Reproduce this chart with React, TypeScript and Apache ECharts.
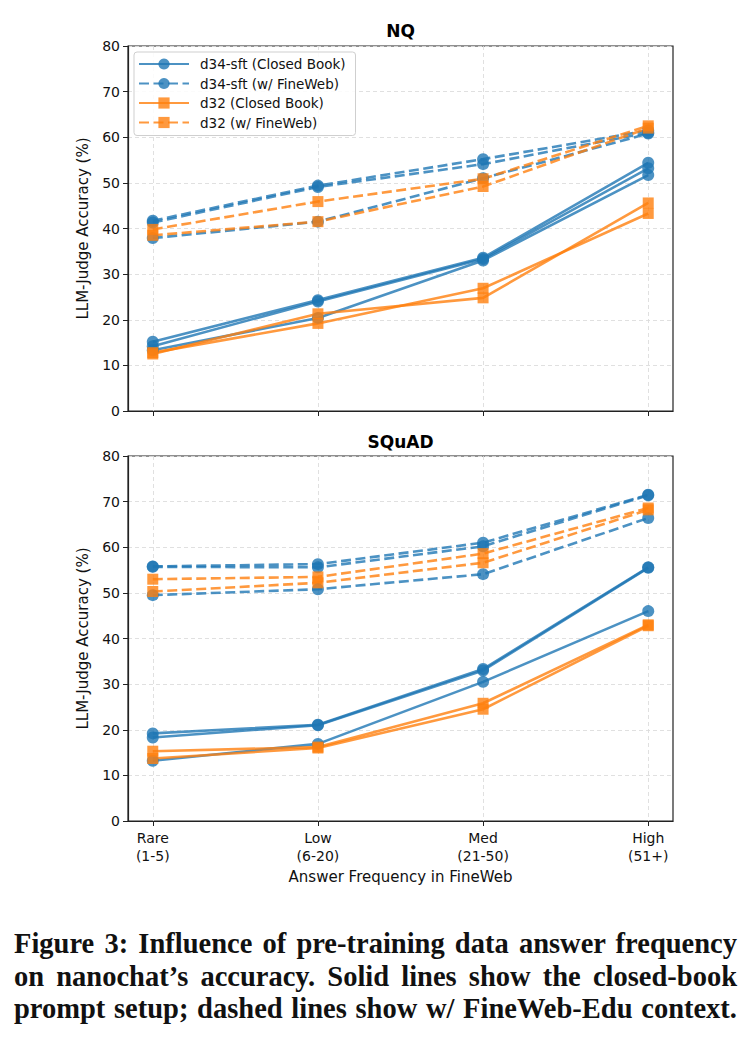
import React, { useEffect, useRef } from "react";
import * as echarts from "echarts";

// ---------- data ----------
const categories = ["Rare\n(1-5)", "Low\n(6-20)", "Med\n(21-50)", "High\n(51+)"];
const yTicks = [0, 10, 20, 30, 40, 50, 60, 70, 80];

// NQ
const nqD34Closed = [
  [15.2, 24.3, 33.6, 54.4],
  [14.2, 24.0, 33.3, 53.2],
  [13.3, 20.4, 33.0, 51.7],
];
const nqD34Web = [
  [41.7, 49.4, 55.2, 61.5],
  [41.3, 49.1, 54.1, 61.0],
  [37.9, 41.5, 51.0, 60.8],
];
const nqD32Closed = [
  [12.5, 21.3, 24.8, 45.6],
  [12.8, 19.2, 26.9, 43.3],
];
const nqD32Web = [
  [39.8, 45.9, 50.9, 62.5],
  [38.5, 41.5, 49.2, 62.0],
];

// SQuAD
const sqD34Closed = [
  [19.2, 21.1, 33.3, 55.6],
  [18.3, 21.0, 33.0, 55.5],
  [13.2, 16.9, 30.5, 46.0],
];
const sqD34Web = [
  [55.8, 56.3, 61.0, 71.5],
  [55.7, 55.6, 60.2, 71.4],
  [49.5, 50.8, 54.1, 66.4],
];
const sqD32Closed = [
  [15.3, 16.2, 25.8, 43.0],
  [13.7, 16.0, 24.5, 42.8],
];
const sqD32Web = [
  [53.0, 53.5, 58.6, 68.6],
  [50.3, 52.2, 56.6, 68.2],
];

const seriesNames = [
  "d34-sft (Closed Book)",
  "d34-sft (w/ FineWeb)",
  "d32 (Closed Book)",
  "d32 (w/ FineWeb)",
];

const captionLines = [
  "Figure 3: Influence of pre-training data answer frequency",
  "on nanochat\u2019s accuracy. Solid lines show the closed-book",
  "prompt setup; dashed lines show w/ FineWeb-Edu context.",
];

// ---------- styling ----------
const BLUE = "#1f77b4";
const ORANGE = "#ff7f0e";
const FONT = "DejaVu Sans";
const GRID_LEFT = 128;
const GRID_W = 545;
const GRID_H = 365;
const TOPS = [46, 456];

function makeSeries(
  groups: number[][],
  name: string,
  color: string,
  dashed: boolean,
  symbol: string,
  gi: number
) {
  return groups.map((vals) => ({
    type: "line",
    name,
    xAxisIndex: gi,
    yAxisIndex: gi,
    data: vals.map((v, i) => [i, v]),
    symbol,
    symbolSize: symbol === "circle" ? 12 : 11,
    lineStyle: {
      color,
      width: 2.6,
      opacity: 0.8,
      type: dashed ? [10, 4.5] : "solid",
    },
    itemStyle: { color, opacity: 0.8 },
    emphasis: { disabled: true },
  }));
}

export default function App() {
  const ref = useRef<HTMLDivElement>(null);

  useEffect(() => {
    if (!ref.current) return;
    const chart = echarts.init(ref.current, undefined, { renderer: "svg" });

    const xAxes = TOPS.map((_, gi) => ({
      type: "value",
      gridIndex: gi,
      min: -0.15,
      max: 3.15,
      name: gi === 1 ? "Answer Frequency in FineWeb" : "",
      nameLocation: "middle",
      nameGap: 48,
      nameTextStyle: { fontFamily: FONT, fontSize: 15, color: "#111" },
      axisLine: { show: true, onZero: false, lineStyle: { color: "#222", width: 1.2 } },
      axisTick: {
        show: true,
        inside: false,
        length: 5,
        customValues: [0, 1, 2, 3],
        lineStyle: { color: "#222", width: 1 },
      },
      axisLabel: {
        show: gi === 1,
        customValues: [0, 1, 2, 3],
        formatter: (v: number) => categories[Math.round(v)] ?? "",
        fontFamily: FONT,
        fontSize: 14,
        color: "#111",
        lineHeight: 18,
        margin: 8,
      },
      splitLine: {
        show: true,
        lineStyle: { color: "#dcdcdc", type: [4, 3], width: 0.9 },
      },
    }));

    const yAxes = TOPS.map((_, gi) => ({
      type: "value",
      gridIndex: gi,
      min: 0,
      max: 80,
      interval: 10,
      name: "LLM-Judge Accuracy (%)",
      nameLocation: "middle",
      nameGap: 38,
      nameRotate: 90,
      nameTextStyle: { fontFamily: FONT, fontSize: 15, color: "#111" },
      axisLine: { show: true, onZero: false, lineStyle: { color: "#222", width: 1.2 } },
      axisTick: {
        show: true,
        inside: false,
        length: 5,
        lineStyle: { color: "#222", width: 1 },
      },
      axisLabel: {
        fontFamily: FONT,
        fontSize: 14,
        color: "#111",
        margin: 8,
        formatter: (v: number) => (yTicks.includes(v) ? String(v) : ""),
      },
      splitLine: {
        show: true,
        lineStyle: { color: "#dcdcdc", type: [4, 3], width: 0.9 },
      },
    }));

    const series: any[] = [];
    const panels = [
      [nqD34Closed, nqD34Web, nqD32Closed, nqD32Web],
      [sqD34Closed, sqD34Web, sqD32Closed, sqD32Web],
    ];
    panels.forEach((p, gi) => {
      series.push(...makeSeries(p[0], seriesNames[0], BLUE, false, "circle", gi));
      series.push(...makeSeries(p[1], seriesNames[1], BLUE, true, "circle", gi));
      series.push(...makeSeries(p[2], seriesNames[2], ORANGE, false, "rect", gi));
      series.push(...makeSeries(p[3], seriesNames[3], ORANGE, true, "rect", gi));
    });

    chart.setOption({
      animation: false,
      backgroundColor: "#fff",
      grid: TOPS.map((t) => ({
        left: GRID_LEFT,
        top: t,
        width: GRID_W,
        height: GRID_H,
        show: true,
        borderColor: "#222",
        borderWidth: 1.2,
        backgroundColor: "transparent",
      })),
      xAxis: xAxes,
      yAxis: yAxes,
      legend: {
        data: seriesNames,
        orient: "vertical",
        left: 134,
        top: 52,
        padding: [5, 10, 6, 4],
        itemGap: 5.5,
        itemWidth: 50,
        itemHeight: 14,
        backgroundColor: "rgba(255,255,255,0.85)",
        borderColor: "#cfcfcf",
        borderWidth: 1,
        borderRadius: 3,
        textStyle: {
          fontFamily: FONT,
          fontSize: 13.5,
          color: "#111",
          padding: [0, 0, 0, 6],
        },
        selectedMode: false,
      },
      graphic: [
        {
          type: "text",
          x: GRID_LEFT + GRID_W / 2,
          y: 31,
          style: {
            text: "NQ",
            font: `bold 17px "${FONT}"`,
            fill: "#000",
            textAlign: "center",
            textVerticalAlign: "middle",
          },
        },
        {
          type: "text",
          x: GRID_LEFT + GRID_W / 2,
          y: 442,
          style: {
            text: "SQuAD",
            font: `bold 17px "${FONT}"`,
            fill: "#000",
            textAlign: "center",
            textVerticalAlign: "middle",
          },
        },
      ],
      series,
    });

    return () => chart.dispose();
  }, []);

  return (
    <div
      style={{
        position: "absolute",
        left: 0,
        top: 0,
        width: 753,
        height: 1042,
        background: "#fff",
        overflow: "hidden",
      }}
    >
      <div ref={ref} style={{ position: "absolute", left: 0, top: 0, width: 753, height: 905 }} />
      {captionLines.map((line, i) => (
        <div
          key={i}
          style={{
            position: "absolute",
            left: 14,
            top: 928 + i * 32.5,
            width: 723,
            height: 32,
            lineHeight: "32px",
            fontFamily: '"Liberation Serif", "DejaVu Serif", serif',
            fontWeight: "bold",
            fontSize: 28.5,
            color: "#111",
            textAlign: "justify",
            textAlignLast: "justify",
            whiteSpace: "nowrap",
          }}
        >
          {line}
        </div>
      ))}
    </div>
  );
}
